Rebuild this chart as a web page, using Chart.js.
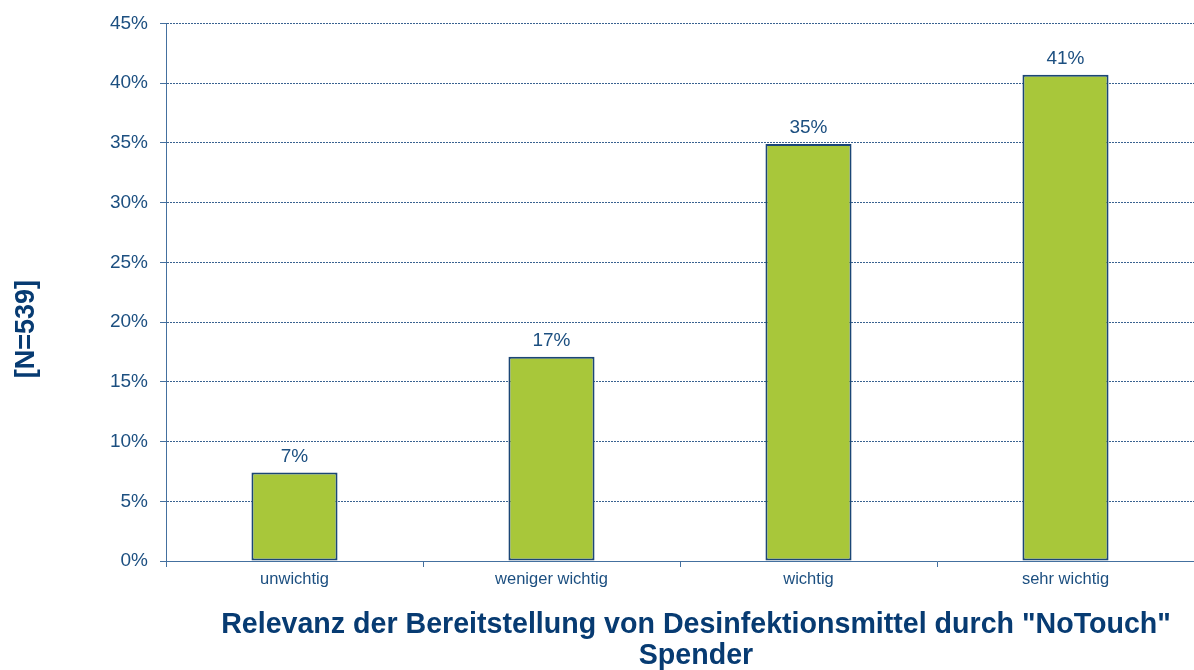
<!DOCTYPE html>
<html>
<head>
<meta charset="utf-8">
<script src="https://cdn.jsdelivr.net/npm/chart.js@4/dist/chart.umd.min.js"></script>
<style>
  html, body { margin: 0; padding: 0; background: #fff; }
  #wrap { width: 1194px; height: 670px; position: relative; }
</style>
</head>
<body>
<div id="wrap"><canvas id="chart"></canvas></div>
<script>
// data
const categories = ['unwichtig', 'weniger wichtig', 'wichtig', 'sehr wichtig'];
const shares = [7.4, 17.1, 34.9, 40.7];
const shareLabels = ['7%', '17%', '35%', '41%'];
const yTicks = [0, 5, 10, 15, 20, 25, 30, 35, 40, 45];

const xTitle = ['Relevanz der Bereitstellung von Desinfektionsmittel durch "NoTouch"', 'Spender'];
const yTitle = '[N=539]';

const textBlue = '#1c4f80';
const darkBlue = '#073b72';
const axisBlue = '#44709f';
const fontFam = '"Liberation Sans", Arial, sans-serif';

// value labels above each bar + axis titles
const annotate = {
  id: 'annotate',
  afterDatasetsDraw(chart) {
    const ctx = chart.ctx;
    const meta = chart.getDatasetMeta(0);
    const area = chart.chartArea;
    ctx.save();

    // solid y axis line (grid dash would otherwise apply)
    ctx.strokeStyle = axisBlue;
    ctx.lineWidth = 1;
    ctx.beginPath();
    ctx.moveTo(area.left + 0.5, area.top);
    ctx.lineTo(area.left + 0.5, area.bottom);
    ctx.stroke();

    ctx.fillStyle = textBlue;
    ctx.font = '19px ' + fontFam;
    ctx.textAlign = 'center';
    ctx.textBaseline = 'alphabetic';
    meta.data.forEach((bar, i) => {
      ctx.fillText(shareLabels[i], bar.x, bar.y - 11);
    });

    ctx.fillStyle = darkBlue;
    ctx.font = 'bold 28.6px ' + fontFam;
    ctx.textBaseline = 'middle';
    const cx = (area.left + area.right) / 2 + 16;
    ctx.fillText(xTitle[0], cx, 625);
    ctx.fillText(xTitle[1], cx, 656);

    ctx.translate(27, (area.top + area.bottom) / 2 + 37);
    ctx.rotate(-Math.PI / 2);
    ctx.font = 'bold 27px ' + fontFam;
    ctx.fillText(yTitle, 0, 0);
    ctx.restore();
  }
};

new Chart(document.getElementById('chart'), {
  type: 'bar',
  data: {
    labels: categories,
    datasets: [{
      data: shares,
      backgroundColor: '#a8c73a',
      borderColor: '#1b4676',
      borderWidth: 2,
      borderSkipped: false,
      barPercentage: 0.335,
      categoryPercentage: 1
    }]
  },
  options: {
    responsive: true,
    maintainAspectRatio: false,
    animation: false,
    layout: { padding: { top: 16, right: 0, left: 0, bottom: 0 } },
    plugins: {
      legend: { display: false },
      tooltip: { enabled: false }
    },
    scales: {
      x: {
        grid: {
          display: true,
          drawOnChartArea: false,
          offset: true,
          tickLength: 6,
          color: axisBlue
        },
        border: { color: axisBlue, width: 1 },
        ticks: {
          color: textBlue,
          padding: 3,
          maxRotation: 0,
          font: { family: fontFam, size: 16.5 }
        },
        afterFit(scale) { scale.height = 109; }
      },
      y: {
        min: 0,
        max: 45,
        afterBuildTicks(scale) { scale.ticks = yTicks.map(v => ({ value: v })); },
        grid: {
          color: '#3a6290',
          lineWidth: 1,
          tickLength: 6,
          tickColor: axisBlue,
          tickBorderDash: [1, 0]
        },
        border: { color: axisBlue, width: 1, dash: [2, 1] },
        ticks: {
          color: textBlue,
          padding: 12,
          callback: v => v + '%',
          font: { family: fontFam, size: 19 }
        },
        afterFit(scale) { scale.width = 166; }
      }
    }
  },
  plugins: [annotate]
});
</script>
</body>
</html>
